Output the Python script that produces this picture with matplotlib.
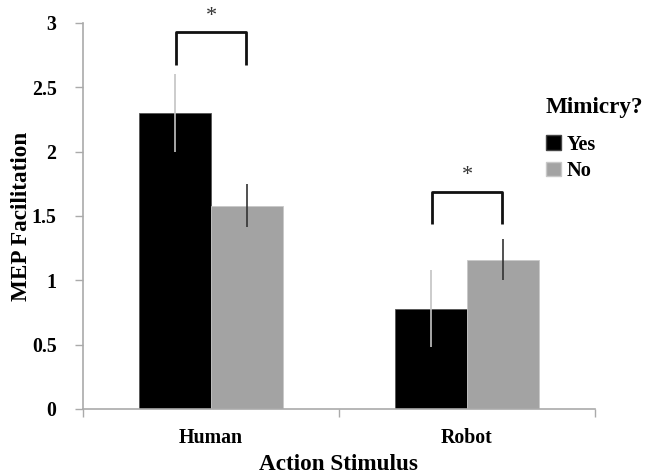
import matplotlib
matplotlib.use("Agg")
import matplotlib.pyplot as plt
from matplotlib.patches import Patch

plt.rcParams.update({"font.family": "Liberation Serif", "font.weight": "bold"})

categories = ["Human", "Robot"]
yes_vals = [2.30, 0.78]
no_vals = [1.58, 1.16]
yes_err = [0.30, 0.30]
no_err = [0.165, 0.16]
# significance brackets: (category index, bottom, top)
brackets = [(0, 2.67, 2.93), (1, 1.44, 1.69)]

fig = plt.figure(figsize=(6.57, 4.75), dpi=100)
ax = fig.add_axes([0.1263, 0.139, 0.7793, 0.8126])

w = 0.283
xs = list(range(len(categories)))
ax.bar([x - w / 2 for x in xs], yes_vals, w, color="#000000", edgecolor="#555555",
       linewidth=0.6, label="Yes", zorder=2)
ax.bar([x + w / 2 for x in xs], no_vals, w, color="#a3a3a3", edgecolor="#c8c8c8",
       linewidth=0.6, label="No", zorder=2)
ax.errorbar([x - w / 2 for x in xs], yes_vals, yerr=yes_err, fmt="none",
            ecolor="#c4c4c4", elinewidth=1.2, capsize=0, zorder=3)
ax.errorbar([x + w / 2 for x in xs], no_vals, yerr=no_err, fmt="none",
            ecolor="#333333", elinewidth=1.2, capsize=0, zorder=3)

for i, lo, hi in brackets:
    x0, x1 = i - 0.137, i + 0.137
    ax.plot([x0, x0, x1, x1], [lo, hi, hi, lo], color="#111111", linewidth=2,
            solid_joinstyle="round", solid_capstyle="butt", clip_on=False)
    ax.text(i, hi + 0.05, "*", ha="center", va="bottom", fontsize=16,
            color="#333333", fontweight="normal")

ax.set_xlim(-0.5, 1.5)
ax.set_ylim(0, 3)
ax.set_yticks([0, 0.5, 1, 1.5, 2, 2.5, 3])
ax.set_yticklabels(["0", "0.5", "1", "1.5", "2", "2.5", "3"])
ax.set_xticks([-0.5, 0.5, 1.5], minor=False)
ax.set_xticklabels(["", "", ""])
ax.set_xticks(xs, minor=True)
ax.set_xticklabels(categories, minor=True)
ax.tick_params(axis="x", which="minor", length=0, pad=14, labelsize=14.3)
ax.tick_params(axis="x", which="major", length=6, color="#aaaaaa", width=1)
ax.tick_params(axis="y", length=6, color="#aaaaaa", width=1, labelsize=14.3, pad=13)
for s in ["top", "right"]:
    ax.spines[s].set_visible(False)
for s in ["left", "bottom"]:
    ax.spines[s].set_color("#aaaaaa")
    ax.spines[s].set_linewidth(1.2)

ax.set_xlabel("Action Stimulus", fontsize=16.7, fontweight="bold")
ax.set_ylabel("MEP Facilitation", fontsize=16.7, fontweight="bold")
ax.xaxis.set_label_coords(0.5, -0.117)
ax.yaxis.set_label_coords(-0.1, 0.5)

handles = [Patch(facecolor="#000000", edgecolor="#444444"),
           Patch(facecolor="#a3a3a3", edgecolor="#c8c8c8")]
leg = fig.legend(handles, ["Yes", "No"], title="Mimicry?", loc="upper left",
                 bbox_to_anchor=(0.809, 0.825), frameon=False, fontsize=14.6,
                 title_fontproperties={"size": 16.7, "weight": "bold"},
                 handlelength=0.75, handleheight=0.75, handletextpad=0.3,
                 labelspacing=0.3, alignment="left", borderpad=0.2)
leg._legend_box.sep = 12

fig.savefig("out.png", dpi=100)
